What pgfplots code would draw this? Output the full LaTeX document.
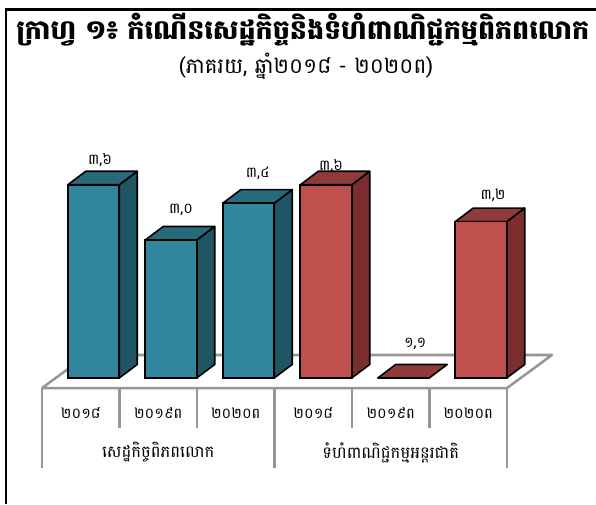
\documentclass[border=0pt]{standalone}
\usepackage{pgfplots}
\pgfplotsset{compat=1.18}
\usepackage{pgfplotstable}
\usepackage{fontspec}
\newfontfamily\khmer[Script=Khmer]{Battambang}

\definecolor{tealfront}{HTML}{31859C}
\definecolor{tealtop}{HTML}{276A7C}
\definecolor{tealside}{HTML}{205664}
\definecolor{redfront}{HTML}{C0504D}
\definecolor{redtop}{HTML}{8E3B39}
\definecolor{redside}{HTML}{7A2F2E}
\definecolor{floorgray}{HTML}{969696}

% bar values
\pgfplotstableread{
x y
0 3.6
1 3.0
2 3.4
}\worldtable
\pgfplotstableread{
x y
3 3.6
4 1.1
5 3.2
}\tradetable
% label positions
\pgfplotstableread{
x y lab
0.084 3.87 ៣,៦
1.13 3.33 ៣,០
2.12 3.72 ៣,៤
3.065 3.80 ៣,៦
4.15 1.87 ១,១
5.155 3.49 ៣,២
}\labeltable

\begin{document}
\begin{tikzpicture}
\begin{axis}[
    scale only axis, width=447pt, height=283.5pt,
    xmin=-1.2065, xmax=6.4839, ymin=1.5, ymax=5.6087,
    clip=false,
    axis line style={draw=none},
    major tick length=0pt,
    ytick=\empty,
    xtick={-0.1645,0.8355,1.8355,2.8355,3.8355,4.8355},
    xticklabels={២០១៨,២០១៩ព,២០២០ព,២០១៨,២០១៩ព,២០២០ព},
    xticklabel style={font=\khmer\fontsize{11}{13}\selectfont, anchor=center, yshift=-26.5pt},
    title={\khmer\bfseries\fontsize{20.2}{24}\selectfont ក្រាហ្វ ១៖ កំណើនសេដ្ឋកិច្ចនិងទំហំពាណិជ្ជកម្មពិភពលោក},
    title style={at={(0.508,0.90)}, anchor=center},
]
% floor
\addplot[floorgray, line width=1.9pt, line join=round, forget plot] coordinates {
    (-0.6645,1.391)(5.3355,1.391)(5.916,1.75)(-0.084,1.75)(-0.6645,1.391)};
% dividers under the floor
\addplot[floorgray, line width=1.9pt, forget plot] coordinates {(-0.6645,1.391)(-0.6645,0.522)};
\addplot[floorgray, line width=1.9pt, forget plot] coordinates {(0.3355,1.391)(0.3355,0.9565)};
\addplot[floorgray, line width=1.9pt, forget plot] coordinates {(1.3355,1.391)(1.3355,0.9565)};
\addplot[floorgray, line width=1.9pt, forget plot] coordinates {(2.3355,1.391)(2.3355,0.522)};
\addplot[floorgray, line width=1.9pt, forget plot] coordinates {(3.3355,1.391)(3.3355,0.9565)};
\addplot[floorgray, line width=1.9pt, forget plot] coordinates {(4.3355,1.391)(4.3355,0.9565)};
\addplot[floorgray, line width=1.9pt, forget plot] coordinates {(5.3355,1.391)(5.3355,0.522)};

% world economy, sides and tops
\addplot[fill=tealside, draw=black, line width=1.2pt, line join=round] coordinates {(0.332,1.5)(0.564,1.647)(0.564,3.747)(0.332,3.6)} -- cycle;
\addplot[fill=tealtop, draw=black, line width=1.2pt, line join=round] coordinates {(-0.332,3.6)(0.332,3.6)(0.564,3.747)(-0.100,3.747)} -- cycle;
\addplot[fill=tealside, draw=black, line width=1.2pt, line join=round] coordinates {(1.332,1.5)(1.564,1.647)(1.564,3.147)(1.332,3.0)} -- cycle;
\addplot[fill=tealtop, draw=black, line width=1.2pt, line join=round] coordinates {(0.668,3.0)(1.332,3.0)(1.564,3.147)(0.900,3.147)} -- cycle;
\addplot[fill=tealside, draw=black, line width=1.2pt, line join=round] coordinates {(2.332,1.5)(2.564,1.647)(2.564,3.547)(2.332,3.4)} -- cycle;
\addplot[fill=tealtop, draw=black, line width=1.2pt, line join=round] coordinates {(1.668,3.4)(2.332,3.4)(2.564,3.547)(1.900,3.547)} -- cycle;
\addplot[ybar, bar width=38.6pt, bar shift=0pt, fill=tealfront, draw=black, line width=1.2pt] table[x=x,y=y] {\worldtable};

% trade, sides and tops (2019 is below the axis floor, only its top shows)
\addplot[fill=redside, draw=black, line width=1.2pt, line join=round] coordinates {(3.332,1.5)(3.564,1.647)(3.564,3.747)(3.332,3.6)} -- cycle;
\addplot[fill=redtop, draw=black, line width=1.2pt, line join=round] coordinates {(2.668,3.6)(3.332,3.6)(3.564,3.747)(2.900,3.747)} -- cycle;
\addplot[fill=redtop, draw=black, line width=1.2pt, line join=round] coordinates {(3.668,1.5)(4.332,1.5)(4.564,1.647)(3.900,1.647)} -- cycle;
\addplot[fill=redside, draw=black, line width=1.2pt, line join=round] coordinates {(5.332,1.5)(5.564,1.647)(5.564,3.347)(5.332,3.2)} -- cycle;
\addplot[fill=redtop, draw=black, line width=1.2pt, line join=round] coordinates {(4.668,3.2)(5.332,3.2)(5.564,3.347)(4.900,3.347)} -- cycle;
\addplot[ybar, bar width=38.6pt, bar shift=0pt, fill=redfront, draw=black, line width=1.2pt,
    restrict y to domain=1.5:10] table[x=x,y=y] {\tradetable};

% value labels
\addplot[draw=none, mark=none, point meta=explicit symbolic,
    nodes near coords,
    every node near coord/.style={anchor=center, inner sep=0pt, font=\khmer\fontsize{11}{13}\selectfont}]
    table[x=x,y=y,meta=lab] {\labeltable};

% group labels and subtitle
\node[font=\khmer\fontsize{12.3}{14}\selectfont] at (axis cs:0.8355,0.69) {សេដ្ឋកិច្ចពិភពលោក};
\node[font=\khmer\fontsize{12.3}{14}\selectfont] at (axis cs:3.8355,0.69) {ទំហំពាណិជ្ជកម្មអន្តរជាតិ};
\node[font=\khmer\fontsize{16}{19}\selectfont] at (axis cs:2.742,4.89) {(ភាគរយ, ឆ្នាំ២០១៨ - ២០២០ព)};
\end{axis}
% frame of the picture, 1px = 0.75pt
\draw[black, line width=2pt] (4.5pt,-94.5pt) -- (4.5pt,276.5pt) -- (447pt,276.5pt);
\pgfresetboundingbox
\path[use as bounding box] (0pt,-94.5pt) rectangle (447pt,283.5pt);
\end{tikzpicture}
\end{document}
